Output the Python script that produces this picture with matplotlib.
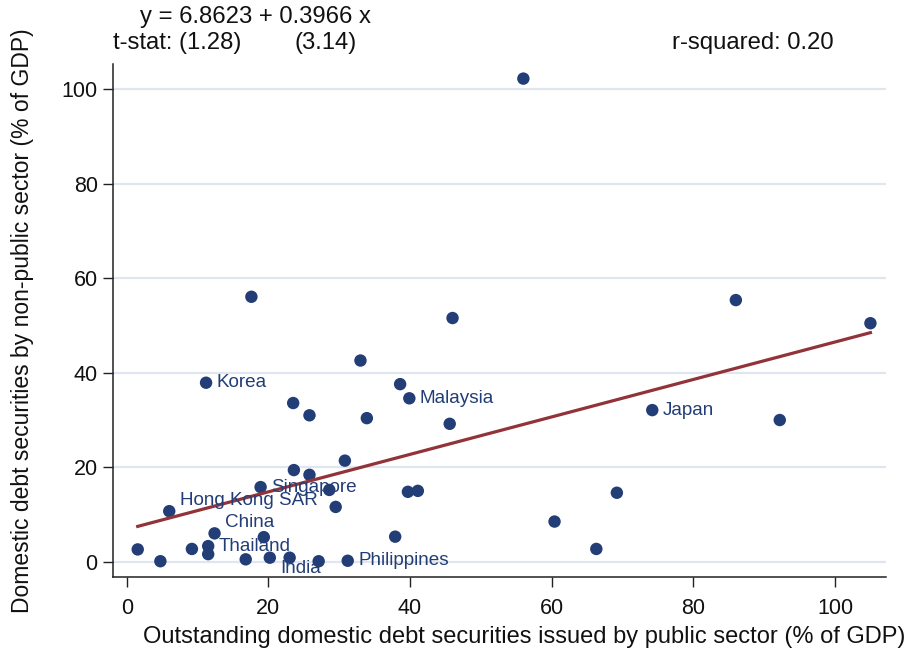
import matplotlib
matplotlib.use('Agg')
import matplotlib.pyplot as plt
import numpy as np

plt.rcParams['font.family'] = ['Liberation Sans', 'DejaVu Sans']

# ---- data ----
public_debt = [1.55, 4.75, 6.0, 9.2, 11.5, 11.5, 12.4, 16.8, 19.35, 18.9,
               20.2, 23.0, 23.6, 25.8, 27.1, 28.6, 29.5, 30.8, 31.2, 37.9,
               39.7, 41.1, 17.6, 46.0, 33.0, 11.2, 38.6, 39.9, 23.5, 25.8,
               33.9, 45.6, 86.0, 105.0, 74.2, 92.2, 69.2, 60.4, 66.3, 56.0]
nonpublic_debt = [2.6, 0.1, 10.7, 2.7, 3.3, 1.6, 6.0, 0.5, 5.2, 15.8,
                  0.85, 0.85, 19.4, 18.4, 0.1, 15.2, 11.6, 21.4, 0.2, 5.3,
                  14.8, 15.0, 56.1, 51.6, 42.6, 37.9, 37.6, 34.6, 33.6, 31.0,
                  30.4, 29.2, 55.4, 50.5, 32.1, 30.0, 14.6, 8.5, 2.7, 102.3]
point_labels = ['', '', 'Hong Kong SAR', '', 'Thailand', '', 'China', '', '', 'Singapore',
                'India', '', '', '', '', '', '', '', 'Philippines', '',
                '', '', '', '', '', 'Korea', '', 'Malaysia', '', '',
                '', '', '', '', 'Japan', '', '', '', '', '']
intercept = 6.8623
slope = 0.3966
t_stat_intercept = '1.28'
t_stat_slope = '3.14'
r_squared = '0.20'
x_ticks = [0, 20, 40, 60, 80, 100]
y_ticks = [0, 20, 40, 60, 80, 100]
x_title = 'Outstanding domestic debt securities issued by public sector (% of GDP)'
y_title = 'Domestic debt securities by non-public sector (% of GDP)'

# label clock positions (Stata style); default 3 o'clock
label_clock = {'Hong Kong SAR': 2, 'China': 2, 'India': 4}

# ---- style ----
W, H = 907, 657
navy = '#233d76'
maroon = '#923339'
grid_c = '#e1e5f0'
txt = '#111111'

fig = plt.figure(figsize=(W / 100, H / 100), dpi=100)
ax = fig.add_axes([113 / W, 1 - 577 / H, (886 - 113) / W, (577 - 63.5) / H])

ax.set_xlim(-1.94, 107.2)
ax.set_ylim(-3.24, 105.5)

for yv in y_ticks:
    ax.axhline(yv, color=grid_c, lw=1.6, zorder=0)

ax.scatter(public_debt, nonpublic_debt, s=80, color=navy, edgecolors='none', zorder=3)

xs = np.array([min(public_debt), max(public_debt)])
ax.plot(xs, intercept + slope * xs, color=maroon, lw=2.3, zorder=4)

off = 7.6
for x, y, lab in zip(public_debt, nonpublic_debt, point_labels):
    if not lab:
        continue
    c = label_clock.get(lab, 3)
    dy = {2: off, 3: 0, 4: -off}[c]
    ax.annotate(lab, (x, y), xytext=(off, dy), textcoords='offset points',
                ha='left', va='center', fontsize=13.6, color=navy, zorder=5)

ax.set_xticks(x_ticks)
ax.set_yticks(y_ticks)
ax.set_xticklabels([str(v) for v in x_ticks])
ax.set_yticklabels([str(v) for v in y_ticks])
ax.tick_params(axis='both', direction='out', length=7, width=1.0, color='#222222',
               labelsize=15.5, labelcolor=txt)
ax.tick_params(axis='x', pad=8)
ax.tick_params(axis='y', pad=4)

for s in ['top', 'right']:
    ax.spines[s].set_visible(False)
for s in ['left', 'bottom']:
    ax.spines[s].set_color('#222222')
    ax.spines[s].set_linewidth(1.1)

fig.text(524 / W, 1 - 637 / H, x_title, ha='center', va='center', fontsize=17.0, color=txt)
fig.text(23 / W, 1 - 321 / H, y_title, ha='center', va='center', rotation=90, fontsize=16.5,
         color=txt)

hdr = 17.2
fig.text(140 / W, 1 - 17 / H, f'y = {intercept:.4f} + {slope:.4f} x', ha='left', va='center',
         fontsize=hdr, color=txt)
fig.text(113 / W, 1 - 43 / H, f't-stat: ({t_stat_intercept})', ha='left', va='center',
         fontsize=hdr, color=txt)
fig.text(294 / W, 1 - 43 / H, f'({t_stat_slope})', ha='left', va='center',
         fontsize=hdr, color=txt)
fig.text(672 / W, 1 - 43 / H, f'r-squared: {r_squared}', ha='left', va='center',
         fontsize=hdr, color=txt)

fig.savefig('out.png', dpi=100, facecolor='white')
